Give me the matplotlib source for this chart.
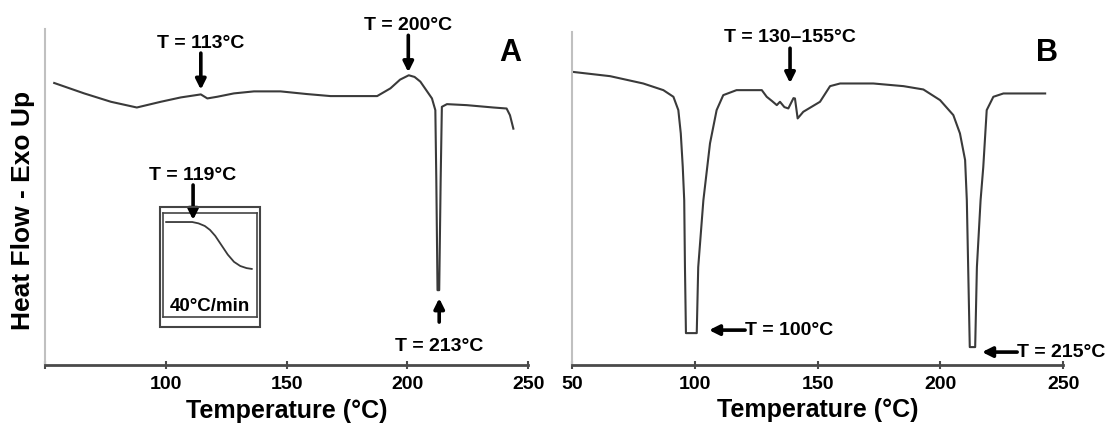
import matplotlib
matplotlib.use('Agg')
import matplotlib.pyplot as plt
from matplotlib.patches import Rectangle

plt.rcParams['font.family'] = ['Liberation Sans', 'DejaVu Sans']
plt.rcParams['font.weight'] = 'bold'

# ---- panel A : DSC trace (heat flow in arbitrary units) ----
tempA = [53.8, 66.2, 77.3, 88.0, 97.9, 106.2, 114.5, 117.2, 121.3, 128.2, 136.5, 147.5,
         158.5, 168.2, 187.5, 193.0, 197.0, 200.6, 203.0, 205.4, 210.2, 211.6, 212.0, 212.5, 213.2,
         213.8, 214.3, 216.4, 224.6, 235.6, 241.1, 242.5, 243.9]
hfA = [8.40, 8.09, 7.84, 7.67, 7.84, 7.97, 8.06, 7.94, 7.99, 8.09, 8.15, 8.15,
       8.07, 8.01, 8.01, 8.24, 8.50, 8.63, 8.58, 8.44, 7.94, 7.59, 5.51, 2.23, 2.23,
       5.51, 7.69, 7.77, 7.74, 7.67, 7.64, 7.44, 7.04]

# inset of panel A (40 C/min)
temp_inset = [106.5, 119.0, 122.0, 125.0, 127.5, 130.0, 133.0, 136.0, 139.0, 142.0, 145.0, 147.5]
hf_inset = [9.13, 9.13, 9.00, 8.75, 8.37, 7.80, 6.90, 6.00, 5.30, 4.90, 4.70, 4.62]

# ---- panel B ----
tempB = [50.1, 65.5, 79.0, 87.2, 91.3, 93.3, 94.3, 95.1, 95.7, 96.0, 96.4, 100.8,
         101.4, 103.5, 106.2, 108.9, 111.6, 117.0, 127.3, 129.3, 131.5, 133.4, 134.7,
         136.5, 138.1, 140.2, 140.8, 141.9, 144.2, 151.0, 155.1, 159.2, 172.7, 185.0,
         193.1, 199.9, 205.3, 208.0, 210.1, 210.8, 212.0, 214.2, 214.9, 216.4, 217.5,
         218.9, 221.6, 225.7, 242.7]
hfB = [8.81, 8.68, 8.46, 8.26, 8.06, 7.66, 6.96, 5.96, 4.95, 2.94, 0.96, 0.96,
       2.94, 4.95, 6.66, 7.66, 8.11, 8.26, 8.26, 8.06, 7.93, 7.81, 7.91,
       7.75, 7.71, 8.02, 8.01, 7.41, 7.61, 7.91, 8.38, 8.46, 8.46, 8.38,
       8.28, 7.96, 7.51, 6.96, 6.16, 4.95, 0.54, 0.54, 2.94, 4.95, 5.95,
       7.66, 8.06, 8.16, 8.16]

xticks = [50, 100, 150, 200, 250]
xticklabelsA = ['', '100', '150', '200', '250']
xticklabelsB = ['50', '100', '150', '200', '250']

line_col = '#3a3a3a'


def arrow(ax, tip, tail):
    ax.annotate('', xy=tip, xytext=tail, annotation_clip=False,
                arrowprops=dict(arrowstyle='-|>', color='black', lw=2.6,
                                mutation_scale=15, shrinkA=0, shrinkB=0))


def style_axes(ax, labels):
    ax.set_xlim(50, 250)
    ax.set_ylim(0, 10)
    ax.set_xticks(xticks)
    ax.set_xticklabels(labels, fontsize=14, fontweight='bold')
    ax.set_yticks([])
    for s in ['top', 'right']:
        ax.spines[s].set_visible(False)
    ax.spines['left'].set_color('#c0c0c0')
    ax.spines['left'].set_linewidth(1.5)
    ax.spines['bottom'].set_color('#4a4a4a')
    ax.spines['bottom'].set_linewidth(2)
    ax.tick_params(axis='x', direction='inout', length=6, width=1.5, color='#4a4a4a', pad=5)
    ax.set_xlabel('Temperature (°C)', fontsize=18, fontweight='bold')
    ax.xaxis.set_label_coords(0.5, -0.10)


fig = plt.figure(figsize=(11.12, 4.24), dpi=100)

###绘制 A
axA = fig.add_axes([0.0405, 0.139, 0.4344, 0.792])
axA.plot(tempA, hfA, color=line_col, lw=1.5)
style_axes(axA, xticklabelsA)
axA.set_ylabel('Heat Flow - Exo Up', fontsize=19, fontweight='bold')
axA.yaxis.set_label_coords(-0.02, 0.46)

axA.text(114.5, 9.58, 'T = 113°C', fontsize=14, ha='center', va='center')
arrow(axA, (114.5, 8.2), (114.5, 9.29))
axA.text(200.4, 10.12, 'T = 200°C', fontsize=14, ha='center', va='center', clip_on=False)
arrow(axA, (200.4, 8.72), (200.4, 9.82))
axA.text(213.2, 0.54, 'T = 213°C', fontsize=14, ha='center', va='center')
arrow(axA, (213.2, 1.99), (213.2, 1.28))
axA.text(242.6, 9.29, 'A', fontsize=22, ha='center', va='center')

# inset
fig.patches.append(Rectangle((0.1439, 0.2288), 0.0899, 0.283, transform=fig.transFigure,
                             fill=False, edgecolor='#444444', lw=1.5))
axI = fig.add_axes([0.1466, 0.2524, 0.0845, 0.2453])
axI.plot(temp_inset, hf_inset, color=line_col, lw=1.3)
axI.set_xlim(105, 150)
axI.set_ylim(0, 10)
axI.set_xticks([])
axI.set_yticks([])
for s in axI.spines.values():
    s.set_color('#444444')
    s.set_linewidth(1.2)
axI.text(0.5, 0.096, '40°C/min', transform=axI.transAxes, fontsize=13.5,
         ha='center', va='center')
axI.text(119.4, 13.65, 'T = 119°C', fontsize=14, ha='center', va='center', clip_on=False)
arrow(axI, (119.4, 9.33), (119.4, 12.69))

###绘制 B
axB = fig.add_axes([0.5144, 0.139, 0.4416, 0.785])
axB.plot(tempB, hfB, color=line_col, lw=1.5)
style_axes(axB, xticklabelsB)

axB.text(138.8, 9.85, 'T = 130–155°C', fontsize=14, ha='center', va='center')
arrow(axB, (138.8, 8.47), (138.8, 9.52))
axB.text(243.5, 9.37, 'B', fontsize=22, ha='center', va='center')
axB.text(120.5, 1.05, 'T = 100°C', fontsize=14, ha='left', va='center')
arrow(axB, (105.8, 1.05), (120.5, 1.05))
axB.text(231.3, 0.39, 'T = 215°C', fontsize=14, ha='left', va='center', clip_on=False)
arrow(axB, (217.0, 0.39), (231.3, 0.39))

plt.savefig('out.png', dpi=100)
